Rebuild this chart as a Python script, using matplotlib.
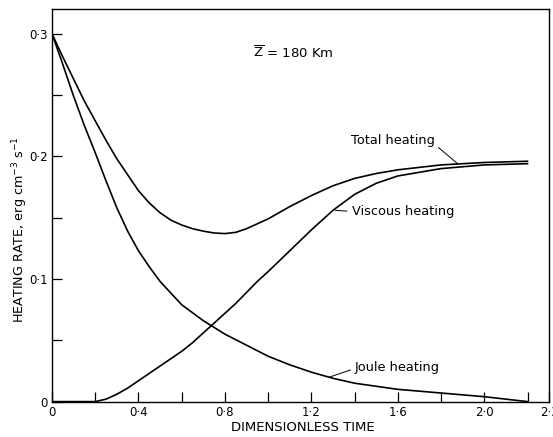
import numpy as np
import matplotlib.pyplot as plt
from matplotlib.ticker import FixedLocator, FuncFormatter

# Dimensionless time and heating rates (erg cm^-3 s^-1)
t_joule = [0.00, 0.05, 0.10, 0.15, 0.20, 0.25, 0.30, 0.35, 0.40, 0.45, 0.50,
           0.60, 0.70, 0.80, 0.90, 1.00, 1.10, 1.20, 1.30, 1.40, 1.60, 1.80,
           2.00, 2.20]
joule = [0.300, 0.275, 0.249, 0.225, 0.203, 0.180, 0.158, 0.139, 0.123, 0.110,
         0.098, 0.079, 0.066, 0.055, 0.046, 0.037, 0.030, 0.024, 0.019, 0.015,
         0.010, 0.007, 0.004, 0.000]

t_total = [0.00, 0.05, 0.10, 0.15, 0.20, 0.25, 0.30, 0.35, 0.40, 0.45, 0.50,
           0.55, 0.60, 0.65, 0.70, 0.75, 0.80, 0.85, 0.90, 0.95, 1.00, 1.10,
           1.20, 1.30, 1.40, 1.50, 1.60, 1.80, 2.00, 2.20]
total = [0.300, 0.281, 0.263, 0.245, 0.229, 0.213, 0.198, 0.185, 0.172, 0.162,
         0.154, 0.148, 0.144, 0.141, 0.139, 0.1375, 0.137, 0.138, 0.141, 0.145,
         0.149, 0.159, 0.168, 0.176, 0.182, 0.186, 0.189, 0.193, 0.195, 0.196]

t_visc = [0.00, 0.20, 0.25, 0.30, 0.35, 0.40, 0.45, 0.50, 0.55, 0.60, 0.65,
          0.70, 0.75, 0.80, 0.85, 0.90, 0.95, 1.00, 1.10, 1.20, 1.30, 1.40,
          1.50, 1.60, 1.80, 2.00, 2.20]
viscous = [0.000, 0.000, 0.002, 0.006, 0.011, 0.017, 0.023, 0.029, 0.035,
           0.041, 0.048, 0.056, 0.064, 0.072, 0.080, 0.089, 0.098, 0.106,
           0.123, 0.140, 0.156, 0.169, 0.178, 0.184, 0.190, 0.193, 0.194]

x_major = [0.0, 0.4, 0.8, 1.2, 1.6, 2.0, 2.3]
x_minor = [0.2, 0.6, 1.0, 1.4, 1.8, 2.2]
y_major = [0.0, 0.1, 0.2, 0.3]
y_minor = [0.05, 0.15, 0.25]


def dot_fmt(v, pos):
    if abs(v) < 1e-9:
        return "0"
    return f"{v:.1f}".replace(".", "\u00b7")


fig = plt.figure(figsize=(5.53, 4.37), dpi=100)
ax = fig.add_axes([0.094, 0.081, 0.899, 0.898])

lw = 1.2
ax.plot(t_total, total, color="black", lw=lw)
ax.plot(t_visc, viscous, color="black", lw=lw)
ax.plot(t_joule, joule, color="black", lw=lw)

ax.set_xlim(0, 2.3)
ax.set_ylim(0, 0.32)

ax.xaxis.set_major_locator(FixedLocator(x_major))
ax.xaxis.set_minor_locator(FixedLocator(x_minor))
ax.yaxis.set_major_locator(FixedLocator(y_major))
ax.yaxis.set_minor_locator(FixedLocator(y_minor))
ax.xaxis.set_major_formatter(FuncFormatter(dot_fmt))
ax.yaxis.set_major_formatter(FuncFormatter(dot_fmt))
ax.tick_params(which="both", direction="in", length=7, width=0.9,
               labelsize=8.5, colors="black")
ax.tick_params(axis="x", pad=3)
ax.tick_params(axis="y", pad=3)
for s in ax.spines.values():
    s.set_linewidth(1.0)

# axis titles placed in figure coordinates to match the original layout
fig.text(0.548, 0.021, "DIMENSIONLESS TIME", fontsize=9.5,
         ha="center", va="center")
fig.text(0.036, 0.474, "HEATING RATE, erg cm$^{-3}$ s$^{-1}$", fontsize=9.2,
         ha="center", va="center", rotation=90)

ax.text(0.93, 0.284, r"$\overline{\mathsf{Z}}$ = 180 Km", fontsize=9.5,
        va="center", ha="left")

ax.annotate("Total heating", xy=(1.877, 0.194), xytext=(1.77, 0.213),
            ha="right", va="center", fontsize=9.3,
            arrowprops=dict(arrowstyle="-", color="black", lw=0.7,
                            shrinkA=1, shrinkB=0, relpos=(1.0, 0.2)))
ax.annotate("Viscous heating", xy=(1.31, 0.156), xytext=(1.39, 0.155),
            ha="left", va="center", fontsize=9.3,
            arrowprops=dict(arrowstyle="-", color="black", lw=0.7,
                            shrinkA=2, shrinkB=0, relpos=(0.0, 0.5)))
ax.annotate("Joule heating", xy=(1.284, 0.020), xytext=(1.40, 0.028),
            ha="left", va="center", fontsize=9.3,
            arrowprops=dict(arrowstyle="-", color="black", lw=0.7,
                            shrinkA=1, shrinkB=0, relpos=(0.0, 0.4)))

fig.savefig("out.png", dpi=100)
